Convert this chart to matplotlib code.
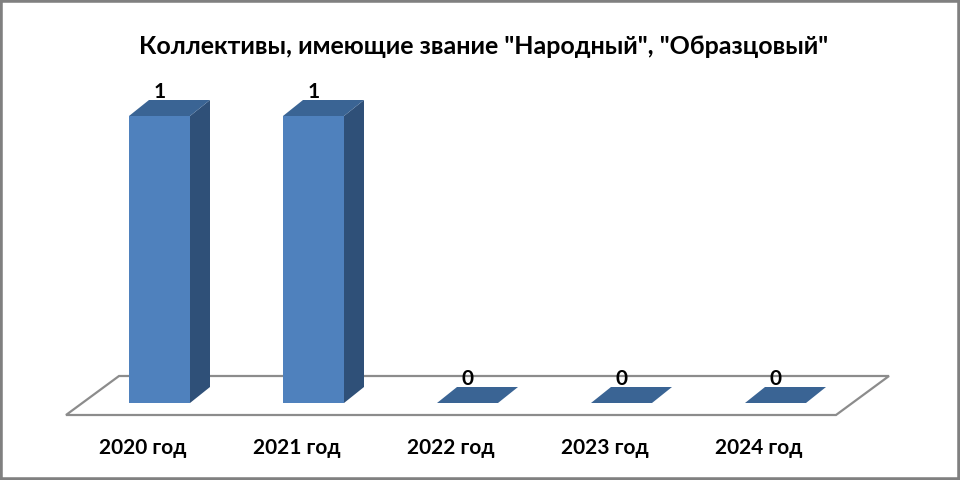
import matplotlib
matplotlib.use('Agg')
import matplotlib.pyplot as plt
from matplotlib.patches import Polygon, Rectangle

years = ['2020 год', '2021 год', '2022 год', '2023 год', '2024 год']
values = [1, 1, 0, 0, 0]
title = 'Коллективы, имеющие звание "Народный", "Образцовый"'

plt.rcParams['font.family'] = ['Lato', 'Liberation Sans', 'DejaVu Sans']

W, H = 960, 480
# plot box in pixels: floor front edge left/right, bar base and bar top
left, right, base, top = 66, 836, 403, 116
px = 5 / (right - left)      # one pixel in x data units
py = 1 / (base - top)        # one pixel in y data units

FRONT = '#4F81BD'
SIDE = '#2F5078'
TOP = '#3A6494'
FLOOR = '#8C8C8C'

fig = plt.figure(figsize=(W / 100, H / 100), dpi=100)
fig.patches.append(Rectangle((0, 0), 1, 1, transform=fig.transFigure, fill=False,
                             edgecolor='#808080', linewidth=4))

ax = fig.add_axes([left / W, (H - base) / H, (right - left) / W, (base - top) / H])
ax.set_xlim(-0.5, 4.5)
ax.set_ylim(0, 1)
ax.patch.set_visible(False)
for s in ax.spines.values():
    s.set_visible(False)

# floor parallelogram
x0, x1 = -0.5, 4.5
y0, y1 = -12 * py, 27 * py
ax.add_patch(Polygon([(x0, y0), (x1, y0), (x1 + 53 * px, y1), (x0 + 53 * px, y1)], closed=True,
                     facecolor='white', edgecolor=FLOOR, linewidth=1.6, clip_on=False, zorder=1))

# bars with oblique depth
shift = 16.5 * px
width = 61 * px
dx, dy = 20 * px, 16 * py
for i, v in enumerate(values):
    xl = i + shift - width / 2
    xr = xl + width
    if v > 0:
        ax.bar(i + shift, v, width=width, color=FRONT, zorder=3)
        ax.add_patch(Polygon([(xr, 0), (xr + dx, dy), (xr + dx, v + dy), (xr, v)], closed=True,
                             facecolor=SIDE, edgecolor='none', clip_on=False, zorder=2))
    ax.add_patch(Polygon([(xl, v), (xr, v), (xr + dx, v + dy), (xl + dx, v + dy)], closed=True,
                         facecolor=TOP, edgecolor='none', clip_on=False, zorder=3))
    ax.text(i + shift, v + 18 * py, str(v), ha='center', va='baseline', fontsize=15,
            fontweight='bold', color='black', zorder=4)

ax.set_xticks(range(len(years)))
ax.set_xticklabels(years, fontsize=15, fontweight='bold')
ax.tick_params(axis='x', length=0, pad=25)
ax.set_yticks([])

fig.text(484 / W, (H - 47) / H, title, ha='center', va='center', fontsize=18, fontweight='bold')

fig.savefig('out.png', dpi=100, facecolor='white')
